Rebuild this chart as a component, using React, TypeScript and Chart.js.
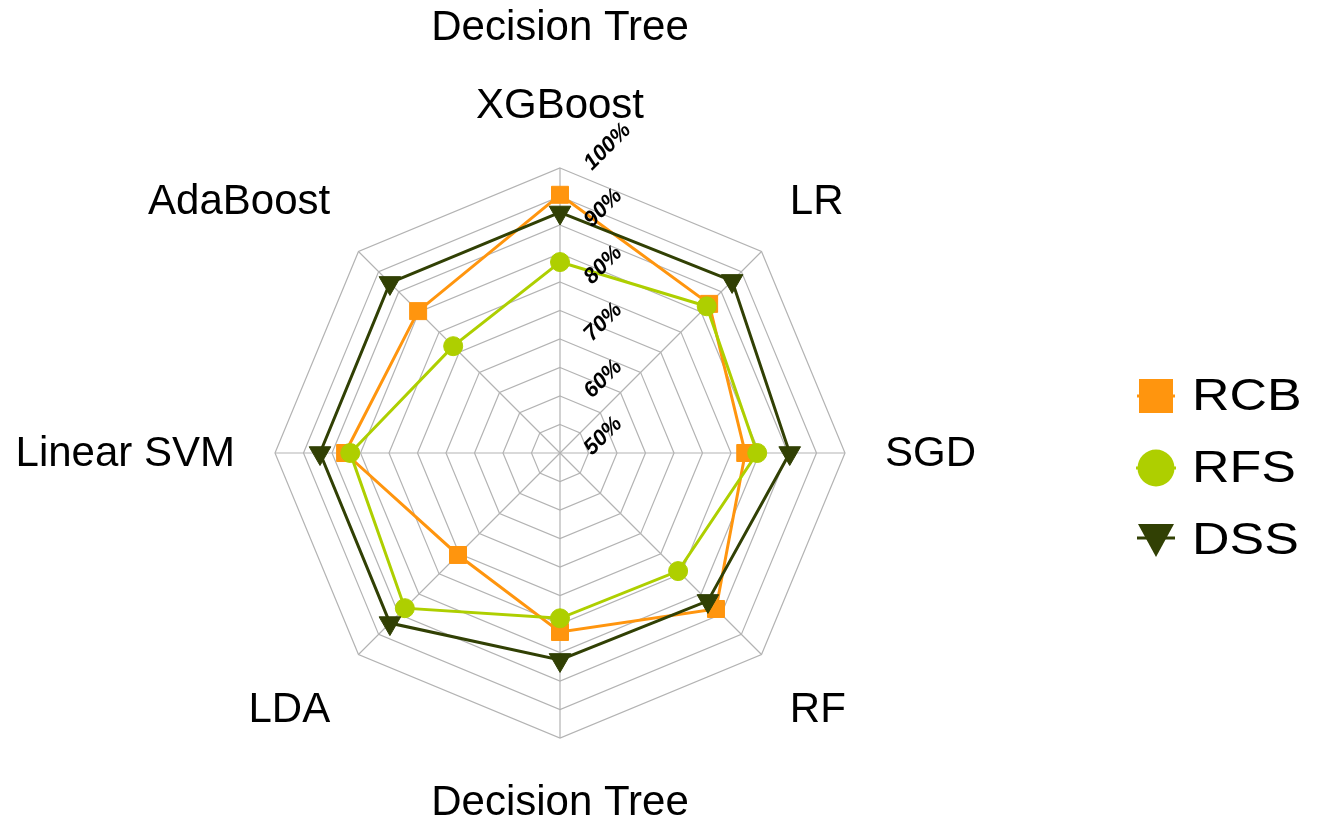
import React, { useEffect, useRef } from 'react';
import { Chart, registerables } from 'chart.js';

Chart.register(...registerables);

// Classifier axes, clockwise from the top
const models = ['XGBoost', 'LR', 'SGD', 'RF', 'Decision Tree', 'LDA', 'Linear SVM', 'AdaBoost'];

// Accuracy (%) per classifier for each feature-selection method
const rcbValues = [95.3, 87.0, 82.5, 88.7, 81.4, 75.3, 87.7, 85.2];
const rfsValues = [83.5, 86.4, 84.6, 79.3, 79.0, 88.5, 86.8, 76.5];
const dssValues = [92.2, 92.7, 90.3, 86.7, 86.3, 92.2, 92.1, 92.2];

const seriesNames = ['RCB', 'RFS', 'DSS'];
const seriesColors = ['#ff950e', '#aecf00', '#314004'];

// Labelled radial ticks (grid rings every 5 %)
const tickValues = [50, 60, 70, 80, 90, 100];
const chartTitle = 'Decision Tree';

const FONT = "'Liberation Sans', Arial, sans-serif";
const LABEL_SIZE = 42;
const LABEL_LINE = LABEL_SIZE * 1.2;

// Axis names around the polygon, placed from the scale's own point positions
const axisNamesPlugin = {
  id: 'axisNames',
  afterDraw(chart: any) {
    const scale = chart.scales.r;
    const ctx = chart.ctx as CanvasRenderingContext2D;
    ctx.save();
    ctx.font = `${LABEL_SIZE}px ${FONT}`;
    ctx.fillStyle = '#000';
    ctx.textBaseline = 'middle';
    (chart.data.labels as string[]).forEach((label, i) => {
      const pos = scale.getPointPosition(i, scale.drawingArea + 40);
      const deg = Math.round((((scale.getIndexAngle(i) * 180) / Math.PI) % 360 + 360) % 360);
      let align: CanvasTextAlign = 'center';
      if (deg > 0 && deg < 180) align = 'left';
      else if (deg > 180) align = 'right';
      let y = pos.y;
      if (deg === 90 || deg === 270) y -= LABEL_LINE / 2 - 1;
      else if (deg > 270 || deg < 90) y -= LABEL_LINE - 4;
      else if (deg !== 180) y += 2;
      ctx.textAlign = align;
      ctx.fillText(label, pos.x, y + LABEL_LINE / 2);
    });
    ctx.restore();
  },
};

// Percent labels along the vertical axis, slanted at 45 degrees
const slantedTicksPlugin = {
  id: 'slantedTicks',
  afterDatasetsDraw(chart: any) {
    const scale = chart.scales.r;
    const ctx = chart.ctx as CanvasRenderingContext2D;
    tickValues.forEach((v) => {
      const d = scale.getDistanceFromCenterForValue(v);
      ctx.save();
      ctx.translate(scale.xCenter + 32, scale.yCenter - d + 3);
      ctx.rotate(-Math.PI / 4);
      ctx.font = `italic bold 22px ${FONT}`;
      ctx.fillStyle = '#000';
      ctx.textAlign = 'left';
      ctx.textBaseline = 'alphabetic';
      ctx.fillText(`${v}%`, 0, 0);
      ctx.restore();
    });
  },
};

// Legend on the right: marker with a short line stub, then the series name
const sideLegendPlugin = {
  id: 'sideLegend',
  afterDraw(chart: any) {
    const ctx = chart.ctx as CanvasRenderingContext2D;
    const area = chart.chartArea;
    const mx = area.right + 36;
    const tx = area.right + 72;
    const midY = (area.top + area.bottom) / 2 + 15;
    const gap = 72;
    chart.data.datasets.forEach((ds: any, i: number) => {
      const y = midY + (i - 1) * gap;
      const color = ds.borderColor as string;
      ctx.save();
      ctx.fillStyle = color;
      ctx.strokeStyle = color;
      ctx.lineWidth = 3;
      const style = ds.pointStyle;
      if (style === 'rect') {
        ctx.beginPath();
        ctx.moveTo(mx - 19, y);
        ctx.lineTo(mx + 19, y);
        ctx.stroke();
        ctx.fillRect(mx - 17, y - 17, 34, 34);
      } else if (style === 'circle') {
        ctx.beginPath();
        ctx.moveTo(mx - 20, y);
        ctx.lineTo(mx + 20, y);
        ctx.stroke();
        ctx.beginPath();
        ctx.arc(mx, y, 18.5, 0, Math.PI * 2);
        ctx.fill();
      } else {
        ctx.beginPath();
        ctx.moveTo(mx - 19, y - 2);
        ctx.lineTo(mx + 19, y - 2);
        ctx.stroke();
        ctx.beginPath();
        ctx.moveTo(mx - 18, y - 16);
        ctx.lineTo(mx + 18, y - 16);
        ctx.lineTo(mx, y + 17);
        ctx.closePath();
        ctx.fill();
      }
      ctx.fillStyle = '#000';
      ctx.font = `44px ${FONT}`;
      ctx.textAlign = 'left';
      ctx.textBaseline = 'middle';
      ctx.translate(tx, y + 2);
      ctx.scale(1.18, 1);
      ctx.fillText(ds.label, 0, 0);
      ctx.restore();
    });
  },
};

export default function App() {
  const canvasRef = useRef<HTMLCanvasElement | null>(null);

  useEffect(() => {
    const canvas = canvasRef.current;
    if (!canvas) return;
    const lineSet = (i: number, data: number[], pointStyle: string, radius: number, rotation = 0) => ({
      label: seriesNames[i],
      data,
      borderColor: seriesColors[i],
      backgroundColor: seriesColors[i],
      pointBackgroundColor: seriesColors[i],
      pointBorderColor: seriesColors[i],
      pointBorderWidth: 1,
      borderWidth: 3,
      fill: false,
      pointStyle,
      pointRadius: radius,
      pointRotation: rotation,
      order: 3 - i,
    });

    const chart = new Chart(canvas, {
      type: 'radar',
      data: {
        labels: models,
        datasets: [
          lineSet(0, rcbValues, 'rect', 12),
          lineSet(1, rfsValues, 'circle', 9.5),
          lineSet(2, dssValues, 'triangle', 12.5, 180),
        ],
      },
      options: {
        responsive: false,
        animation: false,
        layout: { padding: { top: 0, left: 0, right: 197, bottom: 84 } },
        elements: { line: { tension: 0 } },
        plugins: {
          legend: { display: false },
          tooltip: { enabled: false },
          title: {
            display: true,
            text: chartTitle,
            color: '#000',
            font: { family: FONT, size: LABEL_SIZE, weight: 'normal', lineHeight: 1.2 },
            padding: { top: 3, bottom: 114.6 },
          },
        },
        scales: {
          r: {
            min: 50,
            max: 100,
            startAngle: 0,
            ticks: { display: false, stepSize: 5 },
            grid: { color: '#b3b3b3', lineWidth: 1.2, circular: false },
            angleLines: { color: '#b3b3b3', lineWidth: 1.2 },
            pointLabels: { display: false },
          },
        },
      } as any,
      plugins: [axisNamesPlugin, slantedTicksPlugin, sideLegendPlugin],
    });

    return () => chart.destroy();
  }, []);

  return (
    <div style={{ position: 'fixed', left: 0, top: 0, width: 1317, height: 822, background: '#fff' }}>
      <canvas ref={canvasRef} width={1317} height={822} style={{ display: 'block' }} />
    </div>
  );
}
